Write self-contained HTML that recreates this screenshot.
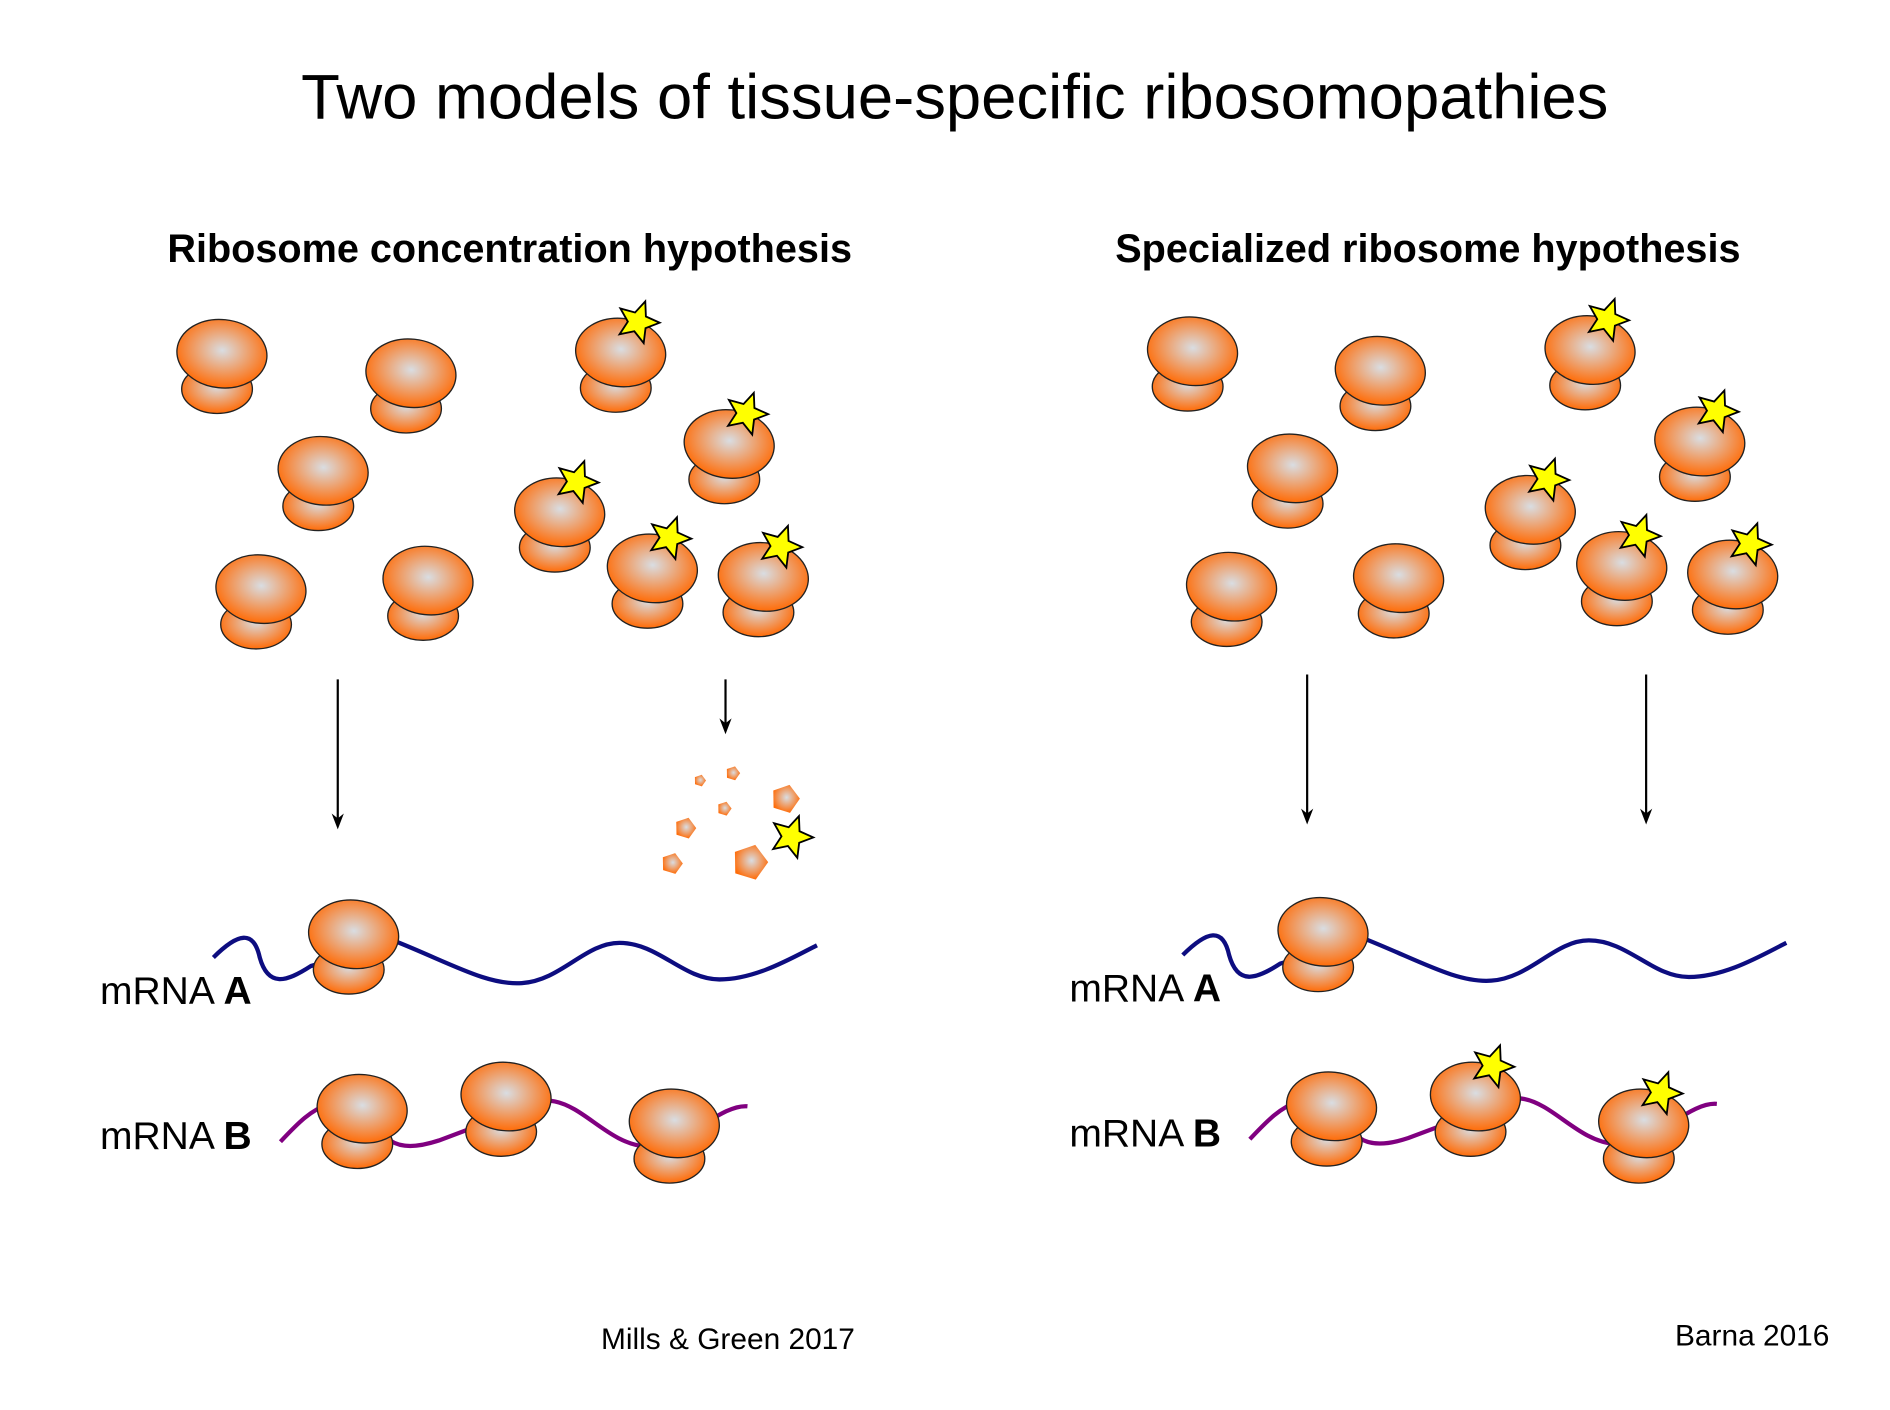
<!DOCTYPE html>
<html><head><meta charset="utf-8"><style>
html,body{margin:0;padding:0;background:#fff;}
svg{display:block;}
text{font-family:"Liberation Sans",sans-serif;}
</style></head><body>
<svg id="fig" width="1890" height="1410" viewBox="0 0 1550 1156" preserveAspectRatio="none" xmlns="http://www.w3.org/2000/svg">
<defs>
<radialGradient id="rg" cx="0.5" cy="0.45" r="0.55">
<stop offset="0" stop-color="#d9dde2"/><stop offset="1" stop-color="#ff6c08"/>
</radialGradient>
</defs>
<text x="783" y="97" font-size="52" text-anchor="middle">Two models of tissue-specific ribosomopathies</text>
<text x="418" y="215" font-size="32.5" font-weight="bold" text-anchor="middle">Ribosome concentration hypothesis</text>
<text x="1171" y="215" font-size="32.5" font-weight="bold" text-anchor="middle">Specialized ribosome hypothesis</text>
<g id="lines"></g>
<g id="ribos"></g>
<text x="82" y="823" font-size="32">mRNA <tspan font-weight="bold">A</tspan></text>
<text x="82" y="942" font-size="32">mRNA <tspan font-weight="bold">B</tspan></text>
<text x="877" y="821" font-size="32">mRNA <tspan font-weight="bold">A</tspan></text>
<text x="877" y="940" font-size="32">mRNA <tspan font-weight="bold">B</tspan></text>
<text x="597" y="1106" font-size="24.5" text-anchor="middle">Mills &amp; Green 2017</text>
<text x="1437" y="1103" font-size="24.5" text-anchor="middle">Barna 2016</text>
</svg>
<script>
const ns="http://www.w3.org/2000/svg";
// ribosome top-ellipse centers [x,y,hasStar]
const ribosomes=[
[182,290,0],[337,306,0],[265,386,0],[214,483,0],[351,476,0],
[509,289,1],[598,364,1],[459,420,1],[535,466,1],[626,473,1],
[978,288,0],[1132,304,0],[1060,384,0],[1010,481,0],[1147,474,0],
[1304,287,1],[1394,362,1],[1255,418,1],[1330,464,1],[1421,471,1],
[290,766,0],[297,909,0],[415,899,0],[553,921,0],
[1085,764,0],[1092,907,0],[1210,899,1],[1348,921,1]
];
const arrows=[[277,557,680],[595,557,602],[1072,553,676],[1350,553,676]];
const fragments=[[574,640,5],[601,634,6],[594,663,6],[644,655,12],[562,679,9],[551,708,9],[615,707,15]];
const freeStars=[[649,686]];
const mrnaPaths=[
["left-mrna-a","#0d0d80","M175,785 C195,765 208,762 213,785 C220,810 235,805 255,792 L325,772 C370,790 400,808 428,806 C460,804 480,773 508,773 C540,773 560,803 590,803 C620,803 650,785 670,775"],
["left-mrna-b","#800080","M230,936 C245,920 255,910 270,905 L320,935 C330,942 345,940 360,935 L400,920 C420,905 440,900 455,903 C480,908 500,938 530,940 C560,942 590,905 613,907"],
["right-mrna-a","#0d0d80","M970,783 C990,763 1003,760 1008,783 C1015,808 1030,803 1050,790 L1120,770 C1165,788 1195,806 1223,804 C1255,802 1275,771 1303,771 C1335,771 1355,801 1385,801 C1415,801 1445,783 1465,773"],
["right-mrna-b","#800080","M1025,934 C1040,918 1050,908 1065,903 L1115,933 C1125,940 1140,938 1155,933 L1195,918 C1215,903 1235,898 1250,901 C1275,906 1295,936 1325,938 C1355,940 1385,903 1408,905"]
];
const L=document.getElementById('lines'),R=document.getElementById('ribos');
function mk(t,a,p){const e=document.createElementNS(ns,t);for(const k in a)e.setAttribute(k,a[k]);(p||R).appendChild(e);return e;}
function starPts(cx,cy,r,rot){let s=[];for(let i=0;i<10;i++){const rr=i%2?r*0.45:r;const a=rot+i*Math.PI/5;s.push((cx+rr*Math.sin(a)).toFixed(1)+','+(cy-rr*Math.cos(a)).toFixed(1));}return s.join(' ');}
function pentPts(cx,cy,r){let s=[];for(let i=0;i<5;i++){const a=0.3+i*2*Math.PI/5;s.push((cx+r*Math.sin(a)).toFixed(1)+','+(cy-r*Math.cos(a)).toFixed(1));}return s.join(' ');}
mrnaPaths.forEach(m=>{const p=mk('path',{d:m[2],fill:'none',stroke:m[1],'stroke-width':3.5},L);

});
arrows.forEach((a,i)=>{const g=mk('g',{},L);


mk('line',{x1:a[0],y1:a[1],x2:a[0],y2:a[2]-6,stroke:'#000','stroke-width':1.8},g);
mk('polygon',{points:(a[0]-5)+','+(a[2]-13)+' '+a[0]+','+a[2]+' '+(a[0]+5)+','+(a[2]-13)+' '+a[0]+','+(a[2]-9),fill:'#000'},g);});
ribosomes.forEach((r,i)=>{const g=mk('g',{});


mk('ellipse',{cx:r[0]-4,cy:r[1]+29,rx:29,ry:20,fill:'url(#rg)',stroke:'#222','stroke-width':1.1},g);
mk('ellipse',{cx:r[0],cy:r[1],rx:37,ry:28,fill:'url(#rg)',stroke:'#222','stroke-width':1.1,transform:'rotate(6 '+r[0]+' '+r[1]+')'},g);
if(r[2]){const s=mk('polygon',{points:starPts(r[0]+14,r[1]-25,18,0.35),fill:'#ffff00',stroke:'#000','stroke-width':1.5},g);

}
});
fragments.forEach(f=>{const p=mk('polygon',{points:pentPts(f[0],f[1],f[2]),fill:'url(#rg)'});

});
freeStars.forEach(f=>{const s=mk('polygon',{points:starPts(f[0],f[1],18,0.35),fill:'#ffff00',stroke:'#000','stroke-width':1.5});

});
</script>
</body></html>
